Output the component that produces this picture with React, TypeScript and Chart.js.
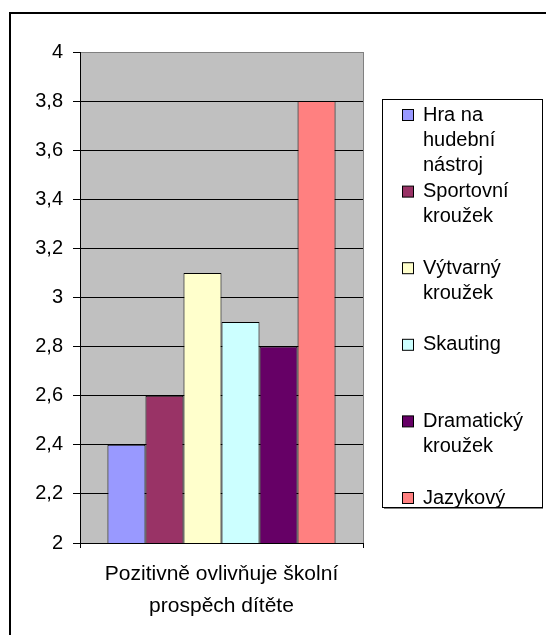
import React, { useEffect, useRef } from 'react';
import { Chart, registerables } from 'chart.js';

Chart.register(...registerables);

const categoryLines = ['Pozitivně ovlivňuje školní', 'prospěch dítěte'];
const seriesNames = ['Hra na hudební nástroj', 'Sportovní kroužek', 'Výtvarný kroužek', 'Skauting', 'Dramatický kroužek', 'Jazykový'];
const legendLines = [
  ['Hra na', 'hudební', 'nástroj'],
  ['Sportovní', 'kroužek'],
  ['Výtvarný', 'kroužek'],
  ['Skauting'],
  ['Dramatický', 'kroužek'],
  ['Jazykový'],
];
const seriesValues = [2.4, 2.6, 3.1, 2.9, 2.8, 3.8];
const seriesColors = ['#9999FF', '#993366', '#FFFFCC', '#CCFFFF', '#660066', '#FF8080'];
const yMin = 2;
const yMax = 4;
const yStep = 0.2;

const FONT = "'Liberation Sans', Arial, sans-serif";

const framePlugin = {
  id: 'framePlugin',
  beforeDraw(chart: any) {
    const { ctx, chartArea } = chart;
    ctx.save();
    ctx.fillStyle = '#ffffff';
    ctx.fillRect(0, 0, chart.width, chart.height);
    ctx.strokeStyle = '#000000';
    ctx.lineWidth = 2;
    ctx.strokeRect(10, 13, 700, 800);
    ctx.fillStyle = '#C0C0C0';
    ctx.fillRect(chartArea.left, chartArea.top, chartArea.right - chartArea.left, chartArea.bottom - chartArea.top);
    ctx.strokeStyle = '#808080';
    ctx.lineWidth = 1;
    ctx.strokeRect(chartArea.left + 0.5, chartArea.top + 0.5, chartArea.right - chartArea.left, chartArea.bottom - chartArea.top);
    ctx.restore();
  },
};

const legendPlugin = {
  id: 'customLegend',
  afterDraw(chart: any) {
    const { ctx } = chart;
    const bx = 382, by = 99, bw = 160, bh = 408;
    ctx.save();
    ctx.fillStyle = '#ffffff';
    ctx.fillRect(bx, by, bw, bh);
    ctx.beginPath();
    ctx.rect(bx, by, bw, bh);
    ctx.clip();
    ctx.font = `20px ${FONT}`;
    ctx.textBaseline = 'middle';
    ctx.textAlign = 'left';
    const first = 115;
    const slot = 76.6;
    const lineH = 25;
    chart.data.datasets.forEach((ds: any, i: number) => {
      const cy = first + i * slot;
      ctx.fillStyle = ds.backgroundColor;
      ctx.fillRect(402.5, cy - 5.5, 11, 11);
      ctx.strokeStyle = '#000000';
      ctx.lineWidth = 1;
      ctx.strokeRect(402.5, cy - 5.5, 11, 11);
      ctx.fillStyle = '#000000';
      (legendLines[i] || [ds.label]).forEach((t: string, j: number) => {
        ctx.fillText(t, 423, cy + j * lineH);
      });
    });
    ctx.restore();
    ctx.save();
    ctx.strokeStyle = '#000000';
    ctx.lineWidth = 1;
    ctx.strokeRect(bx + 0.5, by + 0.5, bw, bh);
    ctx.strokeStyle = '#808080';
    ctx.beginPath();
    ctx.moveTo(bx + 2, by + bh + 1.5);
    ctx.lineTo(bx + bw + 1, by + bh + 1.5);
    ctx.stroke();
    ctx.restore();
  },
};

export default function App() {
  const canvasRef = useRef<HTMLCanvasElement | null>(null);

  useEffect(() => {
    if (!canvasRef.current) return;
    const chart = new Chart(canvasRef.current, {
      type: 'bar',
      data: {
        labels: [categoryLines],
        datasets: seriesNames.map((name, i) => ({
          label: name,
          data: [seriesValues[i]],
          backgroundColor: seriesColors[i],
          borderColor: '#000000',
          borderWidth: 1,
          categoryPercentage: 0.806,
          barPercentage: 1,
        })),
      },
      options: {
        animation: false,
        responsive: false,
        maintainAspectRatio: false,
        devicePixelRatio: 1,
        layout: { padding: { top: 52, right: 183, bottom: 0, left: 0 } },
        plugins: {
          legend: { display: false },
          tooltip: { enabled: false },
        },
        scales: {
          x: {
            offset: true,
            grid: {
              offset: true,
              drawOnChartArea: false,
              drawTicks: true,
              tickLength: 5,
              color: '#000000',
            },
            border: { display: true, color: '#000000', width: 1 },
            ticks: {
              color: '#000000',
              font: { family: FONT, size: 21, lineHeight: 1.52 },
              padding: 10,
              maxRotation: 0,
              autoSkip: false,
            },
            afterFit(scale: any) {
              scale.height = 92;
            },
          },
          y: {
            min: yMin,
            max: yMax,
            grid: {
              color: (c: any) => (c.tick && c.tick.value === yMax ? '#808080' : '#000000'),
              tickColor: '#000000',
              tickLength: 7,
              lineWidth: 1,
            },
            border: { display: true, color: '#000000', width: 1 },
            ticks: {
              stepSize: yStep,
              color: '#000000',
              padding: 10,
              font: { family: FONT, size: 20 },
              callback: (v: any) => {
                const n = Math.round(Number(v) * 10) / 10;
                return Number.isInteger(n) ? String(n) : n.toFixed(1).replace('.', ',');
              },
            },
            afterFit(scale: any) {
              scale.width = 80;
            },
          },
        },
      },
      plugins: [framePlugin, legendPlugin],
    });
    return () => chart.destroy();
  }, []);

  return (
    <div style={{ position: 'fixed', left: 0, top: 0, width: 546, height: 635, background: '#fff' }}>
      <canvas ref={canvasRef} width={546} height={635} style={{ display: 'block', width: 546, height: 635 }} />
    </div>
  );
}
